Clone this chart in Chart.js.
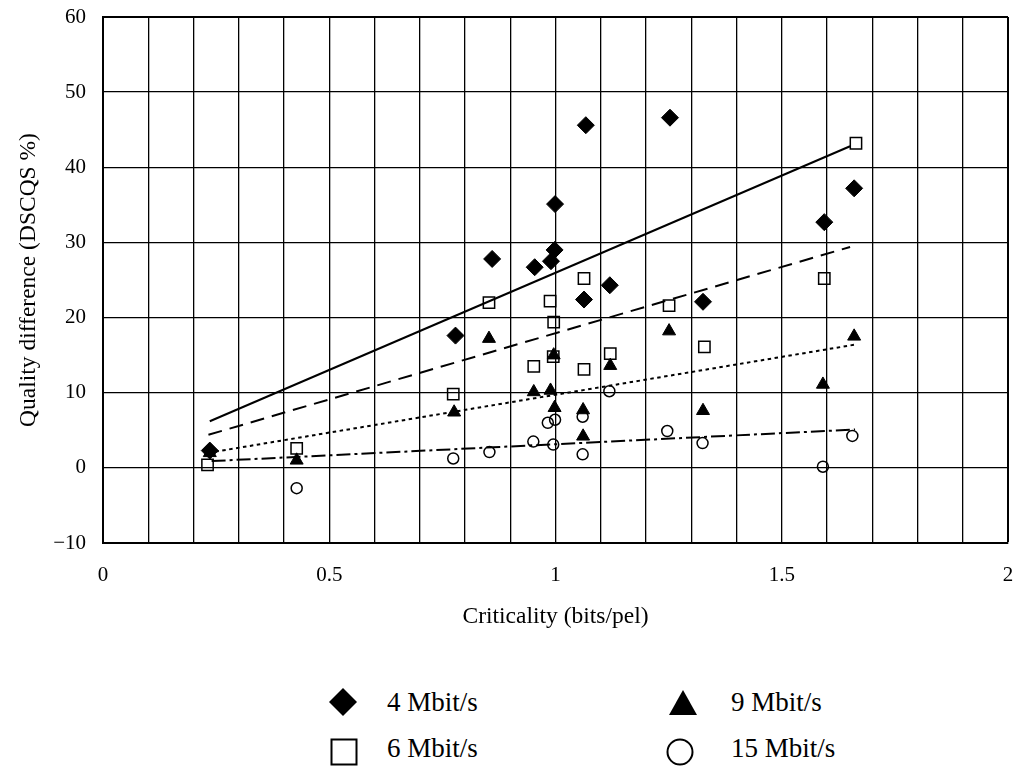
<!DOCTYPE html>
<html>
<head>
<meta charset="utf-8">
<script src="https://cdn.jsdelivr.net/npm/chart.js@4.4.1/dist/chart.umd.min.js"></script>
<style>
  html, body { margin: 0; padding: 0; background: #fff; }
  #wrap { position: relative; width: 1018px; height: 769px; overflow: hidden; }
  #c { position: absolute; left: 0; top: 0; }
  .lg { position: absolute; font-family: "Liberation Serif", "Times New Roman", serif; font-size: 27px; line-height: 1; color: #000; white-space: nowrap; }
  #lgsvg { position: absolute; left: 0; top: 650px; }
</style>
</head>
<body>
<div id="wrap">
  <canvas id="c" width="1018" height="640"></canvas>
  <svg id="lgsvg" width="1018" height="119">
    <polygon points="329,52 343,38 357,52 343,66" fill="#000"/>
    <polygon points="669,65 683,40 697,65" fill="#000"/>
    <rect x="331.5" y="89.5" width="25" height="25" fill="none" stroke="#000" stroke-width="2"/>
    <circle cx="680" cy="102" r="12.5" fill="none" stroke="#000" stroke-width="2"/>
  </svg>
  <div class="lg" id="l4" style="left:387px; top:689px;"></div>
  <div class="lg" id="l9" style="left:731px; top:689px;"></div>
  <div class="lg" id="l6" style="left:387px; top:735px;"></div>
  <div class="lg" id="l15" style="left:731px; top:735px;"></div>
</div>
<script>
// ---- data ----
const seriesNames = ['4 Mbit/s', '6 Mbit/s', '9 Mbit/s', '15 Mbit/s'];

const x4 = [0.236, 0.779, 0.860, 0.954, 0.990, 0.999, 0.998, 1.067, 1.063, 1.120, 1.253, 1.326, 1.594, 1.660];
const y4 = [2.3, 17.6, 27.8, 26.7, 27.5, 35.1, 29.0, 45.6, 22.4, 24.3, 46.6, 22.1, 32.7, 37.2];

const x6 = [0.231, 0.428, 0.774, 0.853, 0.988, 0.996, 0.952, 0.995, 1.063, 1.121, 1.063, 1.594, 1.251, 1.329, 1.664];
const y6 = [0.4, 2.6, 9.8, 22.0, 22.2, 19.4, 13.5, 14.8, 13.1, 15.2, 25.2, 25.2, 21.6, 16.1, 43.2];

const x9 = [0.236, 0.428, 0.776, 0.853, 0.952, 0.989, 0.998, 0.996, 1.061, 1.061, 1.121, 1.251, 1.326, 1.591, 1.660];
const y9 = [2.0, 1.0, 7.4, 17.2, 10.1, 10.3, 8.0, 15.0, 7.7, 4.2, 13.6, 18.2, 7.6, 11.1, 17.5];

const x15 = [0.428, 0.774, 0.854, 0.951, 0.983, 0.999, 0.995, 1.060, 1.060, 1.119, 1.247, 1.325, 1.591, 1.656];
const y15 = [-2.7, 1.25, 2.1, 3.5, 6.0, 6.4, 3.1, 6.8, 1.8, 10.2, 4.9, 3.3, 0.15, 4.25];

// fitted trend lines (end points)
const trendX4 = [0.236, 1.651];  const trendY4 = [6.2, 42.8];
const trendX6 = [0.233, 1.651];  const trendY6 = [4.4, 29.4];
const trendX9 = [0.233, 1.662];  const trendY9 = [2.0, 16.4];
const trendX15 = [0.240, 1.662]; const trendY15 = [0.9, 5.1];

const xTickLabels = ['0', '0.5', '1', '1.5', '2'];
const yTickLabels = ['\u221210', '0', '10', '20', '30', '40', '50', '60'];
const xTitle = 'Criticality (bits/pel)';
const yTitle = 'Quality difference (DSCQS %)';

// ---- build ----
function pts(xs, ys) { return xs.map((x, i) => ({ x: x, y: ys[i] })); }

document.getElementById('l4').textContent = seriesNames[0];
document.getElementById('l6').textContent = seriesNames[1];
document.getElementById('l9').textContent = seriesNames[2];
document.getElementById('l15').textContent = seriesNames[3];

const serif = '"Liberation Serif", "Times New Roman", serif';

function trend(xs, ys, dash) {
  return {
    data: pts(xs, ys), showLine: true, pointRadius: 0, borderColor: '#000',
    borderWidth: 2, borderDash: dash, fill: false
  };
}

new Chart(document.getElementById('c'), {
  type: 'scatter',
  data: {
    datasets: [
      trend(trendX4, trendY4, []),
      trend(trendX6, trendY6, [14, 8]),
      trend(trendX9, trendY9, [3.5, 3.5]),
      trend(trendX15, trendY15, [14, 4, 3, 4]),
      { label: seriesNames[0], data: pts(x4, y4), pointStyle: 'rectRot', pointRadius: 8.5,
        backgroundColor: '#000', borderColor: '#000', borderWidth: 1 },
      { label: seriesNames[2], data: pts(x9, y9), pointStyle: 'triangle', pointRadius: 7.5,
        backgroundColor: '#000', borderColor: '#000', borderWidth: 1 },
      { label: seriesNames[1], data: pts(x6, y6), pointStyle: 'rect', pointRadius: 8,
        backgroundColor: 'rgba(0,0,0,0)', borderColor: '#000', borderWidth: 1.5 },
      { label: seriesNames[3], data: pts(x15, y15), pointStyle: 'circle', pointRadius: 5.5,
        backgroundColor: 'rgba(0,0,0,0)', borderColor: '#000', borderWidth: 1.5 }
    ]
  },
  options: {
    responsive: false,
    animation: false,
    events: [],
    layout: { padding: { top: 17, right: 10, left: 0, bottom: 0 } },
    plugins: { legend: { display: false }, tooltip: { enabled: false } },
    scales: {
      x: {
        type: 'linear', min: 0, max: 2,
        afterFit: s => { s.height = 97; s.paddingLeft = 0; s.paddingRight = 0; },
        ticks: {
          stepSize: 0.1, autoSkip: false, maxRotation: 0, padding: 20, color: '#000',
          font: { family: serif, size: 21 },
          callback: v => {
            const k = v * 2;
            return Math.abs(k - Math.round(k)) < 1e-6 ? xTickLabels[Math.round(k)] : '';
          }
        },
        grid: {
          color: '#000', drawTicks: false,
          lineWidth: c => (c.tick && Math.abs(c.tick.value - 2) < 1e-6) ? 2 : 1.3
        },
        border: { color: '#000', width: 2 },
        title: { display: true, text: xTitle, color: '#000',
                 font: { family: serif, size: 23.5 }, padding: { top: 0, bottom: 9 } }
      },
      y: {
        min: -10, max: 60,
        afterFit: s => { s.width = 103; s.paddingTop = 0; s.paddingBottom = 0; },
        ticks: {
          stepSize: 10, padding: 17, color: '#000',
          font: { family: serif, size: 21 },
          callback: v => yTickLabels[Math.round((v + 10) / 10)]
        },
        grid: {
          color: '#000', drawTicks: false,
          lineWidth: c => (c.tick && Math.abs(c.tick.value - 60) < 1e-6) ? 2 : 1.3
        },
        border: { color: '#000', width: 2 },
        title: { display: true, text: yTitle, color: '#000',
                 font: { family: serif, size: 23.5 }, padding: { top: 15, bottom: 0 } }
      }
    }
  }
});
</script>
</body>
</html>
